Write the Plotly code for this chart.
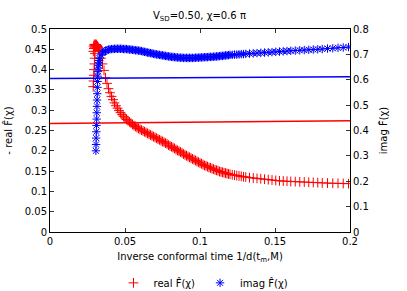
import plotly.graph_objects as go

# start of the real series (oscillating spike), x and - real F(chi)
real_spike_x = [
    0.0288, 0.0289, 0.0290, 0.0291, 0.0292, 0.0293, 0.0294, 0.0295, 0.0296, 0.0297,
    0.0298, 0.0299, 0.0300, 0.0302, 0.0304, 0.0306, 0.0308, 0.0310, 0.0312, 0.0314,
    0.0316, 0.0318, 0.0320, 0.0322, 0.0324, 0.0326, 0.0328, 0.0330,
]
real_spike_y = [
    0.358, 0.445, 0.372, 0.458, 0.386, 0.452, 0.400, 0.462, 0.414, 0.455,
    0.428, 0.460, 0.440, 0.462, 0.458, 0.460, 0.462, 0.460, 0.459, 0.458,
    0.457, 0.456, 0.455, 0.453, 0.451, 0.449, 0.447, 0.445,
]

# start of the imag series (steep rise), x and imag F(chi)
imag_spike_x = [
    0.0306, 0.0307, 0.0308, 0.0309, 0.0310, 0.0311, 0.0312, 0.0313, 0.0314, 0.0315,
    0.0316, 0.0317, 0.0318, 0.0320, 0.0322, 0.0324, 0.0326, 0.0328, 0.0330,
]
imag_spike_y = [
    0.320, 0.345, 0.370, 0.395, 0.420, 0.445, 0.470, 0.495, 0.520, 0.545,
    0.570, 0.593, 0.614, 0.632, 0.646, 0.657, 0.667, 0.676, 0.685,
]

# remaining x values (shared by both series): inverse conformal time 1/d
x_main = [
    0.034, 0.035, 0.036, 0.037, 0.038, 0.039, 0.040, 0.041, 0.042,
    0.043, 0.044, 0.045, 0.046, 0.047, 0.048, 0.049, 0.050, 0.051, 0.052,
    0.053, 0.054, 0.055, 0.056, 0.057, 0.058, 0.059, 0.060, 0.061, 0.062,
    0.063, 0.064, 0.065, 0.066, 0.067, 0.068, 0.069, 0.070, 0.071, 0.072,
    0.073, 0.074, 0.075, 0.076, 0.077, 0.078, 0.079, 0.080, 0.081, 0.082,
    0.083, 0.084, 0.085, 0.086, 0.087, 0.088, 0.089, 0.090, 0.091, 0.092,
    0.093, 0.094, 0.095, 0.096, 0.097, 0.098, 0.099, 0.100, 0.101, 0.102,
    0.103, 0.104, 0.105, 0.106, 0.107, 0.108, 0.109, 0.110, 0.111, 0.112,
    0.113, 0.114, 0.115, 0.116, 0.117, 0.118, 0.119, 0.120,
    0.1215, 0.1230, 0.1245, 0.1260, 0.1275, 0.1290, 0.1305, 0.1330, 0.1355, 0.1380,
    0.1405, 0.1430, 0.1455, 0.1480, 0.1505, 0.1530, 0.1555, 0.1580, 0.1605, 0.1635,
    0.1665, 0.1695, 0.1725, 0.1755, 0.1785, 0.1815, 0.1850, 0.1885, 0.1920, 0.1955,
    0.1990,
]

# - real F(chi), left axis
real_main = [
    0.428, 0.414, 0.398, 0.380, 0.366, 0.353, 0.343, 0.334, 0.326,
    0.318, 0.311, 0.305, 0.299, 0.294, 0.289, 0.285, 0.281, 0.277, 0.274,
    0.271, 0.268, 0.265, 0.262, 0.260, 0.257, 0.255, 0.253, 0.251, 0.249,
    0.247, 0.245, 0.243, 0.241, 0.239, 0.237, 0.235, 0.233, 0.231, 0.229,
    0.227, 0.225, 0.223, 0.221, 0.219, 0.217, 0.214, 0.212, 0.210, 0.208,
    0.206, 0.203, 0.201, 0.199, 0.197, 0.195, 0.192, 0.190, 0.188, 0.186,
    0.184, 0.182, 0.180, 0.178, 0.176, 0.174, 0.172, 0.170, 0.168, 0.166,
    0.164, 0.163, 0.161, 0.159, 0.158, 0.156, 0.155, 0.153, 0.152, 0.151,
    0.149, 0.148, 0.147, 0.146, 0.145, 0.144, 0.143, 0.142,
    0.141, 0.140, 0.139, 0.138, 0.137, 0.136, 0.1355, 0.134, 0.133, 0.132,
    0.131, 0.130, 0.129, 0.128, 0.127, 0.126, 0.1255, 0.125, 0.1245, 0.124,
    0.1235, 0.123, 0.1225, 0.122, 0.1215, 0.121, 0.1205, 0.120, 0.1198, 0.1195,
    0.119,
]

# imag F(chi), right axis
imag_main = [
    0.698, 0.706, 0.710, 0.714, 0.717, 0.719, 0.720, 0.721, 0.721,
    0.722, 0.722, 0.722, 0.722, 0.722, 0.722, 0.721, 0.721, 0.721, 0.720,
    0.719, 0.719, 0.718, 0.717, 0.716, 0.716, 0.715, 0.714, 0.713, 0.711,
    0.710, 0.709, 0.707, 0.706, 0.705, 0.704, 0.702, 0.701, 0.700, 0.699,
    0.698, 0.697, 0.696, 0.695, 0.694, 0.693, 0.692, 0.691, 0.690, 0.690,
    0.689, 0.688, 0.688, 0.687, 0.687, 0.687, 0.686, 0.686, 0.686, 0.686,
    0.686, 0.686, 0.686, 0.686, 0.687, 0.687, 0.687, 0.688, 0.688, 0.688,
    0.689, 0.689, 0.689, 0.690, 0.690, 0.690, 0.691, 0.691, 0.692, 0.692,
    0.693, 0.694, 0.694, 0.695, 0.696, 0.696, 0.697, 0.698,
    0.698, 0.699, 0.699, 0.700, 0.701, 0.701, 0.702, 0.703, 0.704, 0.705,
    0.706, 0.707, 0.708, 0.709, 0.710, 0.711, 0.712, 0.713, 0.714, 0.715,
    0.716, 0.717, 0.718, 0.719, 0.720, 0.721, 0.723, 0.724, 0.726, 0.727,
    0.729,
]

# fitted lines (endpoints)
fit_x = [0.0, 0.2]
fit_real = [0.267, 0.274]
fit_imag = [0.605, 0.612]

RED = "#ff0000"
BLUE = "#0000ff"
FONT = "DejaVu Sans"

fig = go.Figure()
fig.add_trace(go.Scatter(
    x=real_spike_x + x_main, y=real_spike_y + real_main, mode="markers",
    name="real F\u0302(\u03c7)",
    marker=dict(symbol="cross-thin-open", size=7, color=RED,
                line=dict(width=1, color=RED)),
))
fig.add_trace(go.Scatter(
    x=imag_spike_x + x_main, y=imag_spike_y + imag_main, mode="markers",
    name="imag F\u0302(\u03c7)", yaxis="y2",
    marker=dict(symbol="asterisk-open", size=7, color=BLUE,
                line=dict(width=1, color=BLUE)),
))
fig.add_trace(go.Scatter(
    x=fit_x, y=fit_real, mode="lines", showlegend=False,
    line=dict(color=RED, width=1.5),
))
fig.add_trace(go.Scatter(
    x=fit_x, y=fit_imag, mode="lines", showlegend=False, yaxis="y2",
    line=dict(color=BLUE, width=1.5),
))

axis_common = dict(
    showgrid=False, zeroline=False, showline=True, linecolor="black",
    linewidth=1, ticks="inside", ticklen=4, tickcolor="#333",
    tickfont=dict(size=10, family=FONT, color="black"),
    automargin=False,
)

fig.update_layout(
    width=407, height=291,
    margin=dict(l=50, r=57, t=29, b=59),
    paper_bgcolor="white", plot_bgcolor="white",
    font=dict(family=FONT, size=10, color="black"),
    title=dict(text="V<sub>SD</sub>=0.50, \u03c7=0.6 \u03c0", x=0.49, xanchor="center",
               y=0.948, yanchor="middle", font=dict(size=10, family=FONT)),
    xaxis=dict(range=[0, 0.2], tickvals=[0, 0.05, 0.1, 0.15, 0.2],
               mirror="ticks",
               title=dict(text="Inverse conformal time 1/d(t<sub>m</sub>,M)",
                          font=dict(size=10), standoff=6),
               **axis_common),
    yaxis=dict(range=[0, 0.5], dtick=0.05,
               title=dict(text="- real F\u0302(\u03c7)", font=dict(size=10), standoff=10),
               **axis_common),
    yaxis2=dict(range=[0, 0.8], dtick=0.1, overlaying="y", side="right",
                title=dict(text="imag F\u0302(\u03c7)", font=dict(size=10), standoff=12),
                **axis_common),
    legend=dict(orientation="h", x=0.5, xanchor="center", xref="container",
                y=0.028, yanchor="middle", yref="container",
                font=dict(size=10, family=FONT), bgcolor="rgba(0,0,0,0)",
                itemwidth=30),
    showlegend=True,
)

fig.write_html(
    "out.html",
    config={"responsive": False, "displayModeBar": False},
    post_script="document.body.style.margin='0';document.body.style.overflow='hidden';",
)
